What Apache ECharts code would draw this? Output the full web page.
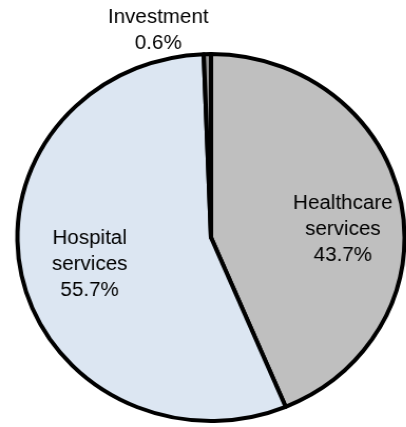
<!DOCTYPE html>
<html>
<head>
<meta charset="utf-8">
<script src="https://cdn.jsdelivr.net/npm/echarts@6/dist/echarts.min.js"></script>
<style>
  html, body { margin: 0; padding: 0; background: #fff; overflow: hidden; }
  #chart { width: 406px; height: 427px; transform: scaleX(1.055); transform-origin: 211px 0; }
</style>
</head>
<body>
<div id="chart"></div>
<script>
// Spending split, clockwise from twelve o'clock
const categories = ['Healthcare\nservices', 'Hospital\nservices', 'Investment'];
const shares = [43.7, 55.7, 0.6];
const sliceColors = ['#bfbfbf', '#dce6f2', '#969696'];

// label anchor points (chart pixels) for each slice
const labelSpots = [
  { x: 336, y: 230 },
  { x: 96, y: 265 },
  { x: 161, y: 31 }
];

const chart = echarts.init(document.getElementById('chart'), null, { renderer: 'canvas' });

chart.setOption({
  animation: false,
  series: [{
    type: 'pie',
    center: [211, 237.5],
    radius: [0, 183.5],
    startAngle: 90,
    clockwise: true,
    avoidLabelOverlap: false,
    silent: true,
    itemStyle: { borderColor: '#000', borderWidth: 4 },
    label: {
      show: true,
      position: 'inside',
      formatter: p => p.name + '\n' + p.value.toFixed(1) + '%',
      fontFamily: 'Liberation Sans, Arial, sans-serif',
      fontSize: 19.5,
      lineHeight: 26,
      color: '#000',
      align: 'center'
    },
    labelLine: { show: false },
    labelLayout: params => ({
      x: labelSpots[params.dataIndex].x,
      y: labelSpots[params.dataIndex].y,
      align: 'center',
      verticalAlign: 'middle'
    }),
    data: categories.map((name, i) => ({
      name: name,
      value: shares[i],
      itemStyle: { color: sliceColors[i] }
    }))
  }]
});
</script>
</body>
</html>
